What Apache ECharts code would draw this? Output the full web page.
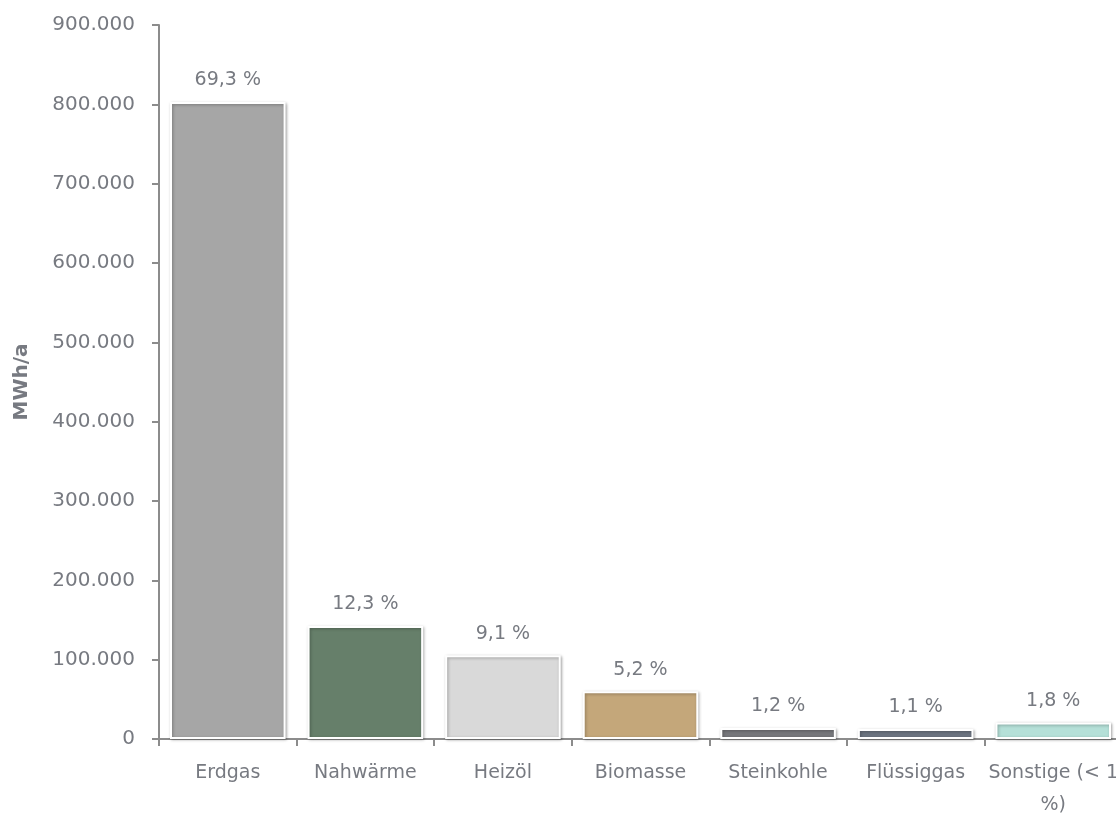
<!DOCTYPE html>
<html>
<head>
<meta charset="utf-8">
<script src="https://cdn.jsdelivr.net/npm/echarts@6/dist/echarts.min.js"></script>
<style>
  html, body { margin: 0; padding: 0; background: #fff; }
  #chart { width: 1116px; height: 814px; }
</style>
</head>
<body>
<div id="chart"></div>
<script>
// Endenergieverbrauch Wärme nach Energieträger (MWh/a)
const categories = ['Erdgas', 'Nahwärme', 'Heizöl', 'Biomasse', 'Steinkohle', 'Flüssiggas', 'Sonstige (< 1 %)'];
const values = [803000, 142500, 105500, 60300, 13900, 12700, 20900];
const shares = ['69,3 %', '12,3 %', '9,1 %', '5,2 %', '1,2 %', '1,1 %', '1,8 %'];
const colors = ['#a6a6a6', '#667f6a', '#d9d9d9', '#c4a77a', '#76777b', '#6c7480', '#b5e0d8'];

const textColor = '#777a81';
const font = '"DejaVu Sans", sans-serif';

const chart = echarts.init(document.getElementById('chart'));

chart.setOption({
  animation: false,
  grid: { left: 159, right: -6, top: 25, bottom: 75, containLabel: false, outerBoundsMode: 'none' },
  xAxis: {
    type: 'category',
    data: categories,
    axisLine: { lineStyle: { color: '#8c8c8c', width: 2 } },
    axisTick: { show: true, length: 7, lineStyle: { color: '#8c8c8c', width: 2 } },
    axisLabel: {
      color: textColor, fontFamily: font, fontSize: 19, margin: 18,
      interval: 0, hideOverlap: false,
      formatter: v => v === 'Sonstige (< 1 %)' ? 'Sonstige (< 1\n%)' : v,
      lineHeight: 32
    }
  },
  yAxis: {
    type: 'value',
    min: 0, max: 900000, interval: 100000,
    name: 'MWh/a',
    nameLocation: 'middle',
    nameGap: 127,
    nameTextStyle: { color: textColor, fontFamily: font, fontSize: 20, fontWeight: 'bold' },
    axisLine: { show: true, lineStyle: { color: '#8c8c8c', width: 2 } },
    axisTick: { show: true, length: 7, lineStyle: { color: '#8c8c8c', width: 2 } },
    splitLine: { show: false },
    axisLabel: {
      color: textColor, fontFamily: font, fontSize: 20, margin: 24,
      formatter: v => v.toString().replace(/\B(?=(\d{3})+(?!\d))/g, '.')
    }
  },
  series: [{
    type: 'bar',
    barCategoryGap: '16%',
    data: values.map((v, i) => ({ value: v, itemStyle: { color: colors[i] } })),
    itemStyle: {
      borderColor: '#ffffff', borderWidth: 2,
      shadowColor: 'rgba(0,0,0,0.3)', shadowBlur: 3, shadowOffsetX: 1, shadowOffsetY: 1
    },
    label: {
      show: true, position: 'top', distance: 12,
      color: textColor, fontFamily: font, fontSize: 19,
      formatter: p => shares[p.dataIndex]
    }
  }]
});
</script>
</body>
</html>
